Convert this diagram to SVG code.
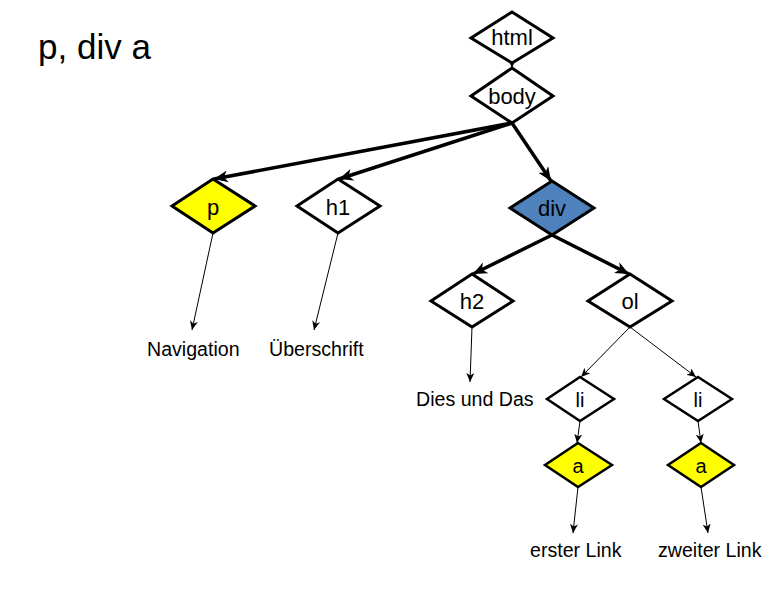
<svg xmlns="http://www.w3.org/2000/svg" width="784" height="595" viewBox="0 0 784 595">
<style>
.n{stroke:#000;stroke-width:3;stroke-linejoin:miter}
.s{stroke-width:2.5}
.w{fill:#fff}.y{fill:#ffff00}.b{fill:#4f81bd}
.t{font-family:"Liberation Sans",Arial,sans-serif;font-size:22px;text-anchor:middle;fill:#000}
.l{font-family:"Liberation Sans",Arial,sans-serif;font-size:19.6px;fill:#000}
.k{stroke:#000;stroke-width:3.5;fill:none}
.f{stroke:#000;stroke-width:1;fill:none}
</style>
<defs>
<marker id="ab" markerUnits="userSpaceOnUse" markerWidth="16" markerHeight="12" refX="14" refY="6" orient="auto" viewBox="0 0 16 12">
<path d="M0,0 L14,6 L0,12 L4,6 Z" fill="#000"/>
</marker>
<marker id="as" markerUnits="userSpaceOnUse" markerWidth="10" markerHeight="8" refX="9" refY="4" orient="auto" viewBox="0 0 10 8">
<path d="M0,0 L9,4 L0,8 L2.5,4 Z" fill="#000"/>
</marker>
</defs>
<rect width="784" height="595" fill="#fff"/>
<text x="38" y="59" style="font-family:'Liberation Sans',Arial,sans-serif;font-size:35px;fill:#000">p, div a</text>
<g id="connectors">
<line class="f" x1="512" y1="63" x2="512" y2="68" marker-end="url(#as)"/>
<line class="k" x1="512" y1="123" x2="214" y2="179" marker-end="url(#ab)"/>
<line class="k" x1="512" y1="123" x2="339" y2="179" marker-end="url(#ab)"/>
<line class="k" x1="512" y1="123" x2="551" y2="181" marker-end="url(#ab)"/>
<line class="k" x1="552" y1="235" x2="473" y2="274" marker-end="url(#ab)"/>
<line class="k" x1="552" y1="235" x2="629" y2="274" marker-end="url(#ab)"/>
<line class="f" x1="213" y1="233" x2="192" y2="330" marker-end="url(#as)"/>
<line class="f" x1="338" y1="233" x2="314" y2="330" marker-end="url(#as)"/>
<line class="f" x1="472" y1="327" x2="470" y2="382" marker-end="url(#as)"/>
<line class="f" x1="630" y1="327" x2="581" y2="377" marker-end="url(#as)"/>
<line class="f" x1="630" y1="327" x2="696" y2="377" marker-end="url(#as)"/>
<line class="f" x1="580" y1="421" x2="577" y2="443" marker-end="url(#as)"/>
<line class="f" x1="698" y1="421" x2="701" y2="443" marker-end="url(#as)"/>
<line class="f" x1="578" y1="487" x2="573" y2="533" marker-end="url(#as)"/>
<line class="f" x1="701" y1="487" x2="708" y2="533" marker-end="url(#as)"/>
</g>
<g id="html"><polygon class="n w" points="512,12 553,38 512,63 471,38"/><text class="t" x="512" y="45">html</text></g>
<g id="body"><polygon class="n w" points="512,68 553,96 512,123 471,96"/><text class="t" x="512" y="104">body</text></g>
<g id="p"><polygon class="n y" points="213,179 255,206 213,233 172,206"/><text class="t" x="213" y="215">p</text></g>
<g id="h1"><polygon class="n w" points="338,179 380,206 338,233 297,206"/><text class="t" x="338" y="215">h1</text></g>
<g id="div"><polygon class="n b" points="552,181 594,208 552,235 510,208"/><text class="t" x="552" y="216">div</text></g>
<g id="h2"><polygon class="n w" points="472,274 513,301 472,327 431,301"/><text class="t" x="472" y="309">h2</text></g>
<g id="ol"><polygon class="n w" points="630,274 672,301 630,327 588,301"/><text class="t" x="630" y="309">ol</text></g>
<g id="li1"><polygon class="n s w" points="580,377 614,399 580,421 547,399"/><text class="t" x="580" y="407" style="font-size:20px">li</text></g>
<g id="li2"><polygon class="n s w" points="698,377 732,399 698,421 664,399"/><text class="t" x="698" y="407" style="font-size:20px">li</text></g>
<g id="a1"><polygon class="n s y" points="578,443 612,465 578,487 545,465"/><text class="t" x="578" y="473" style="font-size:20px">a</text></g>
<g id="a2"><polygon class="n s y" points="701,443 734,465 701,487 668,465"/><text class="t" x="701" y="473" style="font-size:20px">a</text></g>
<g id="labels">
<text class="l" x="147" y="356">Navigation</text>
<text class="l" x="269" y="356">Überschrift</text>
<text class="l" x="416" y="406">Dies und Das</text>
<text class="l" x="530" y="557">erster Link</text>
<text class="l" x="658" y="557">zweiter Link</text>
</g>
</svg>
